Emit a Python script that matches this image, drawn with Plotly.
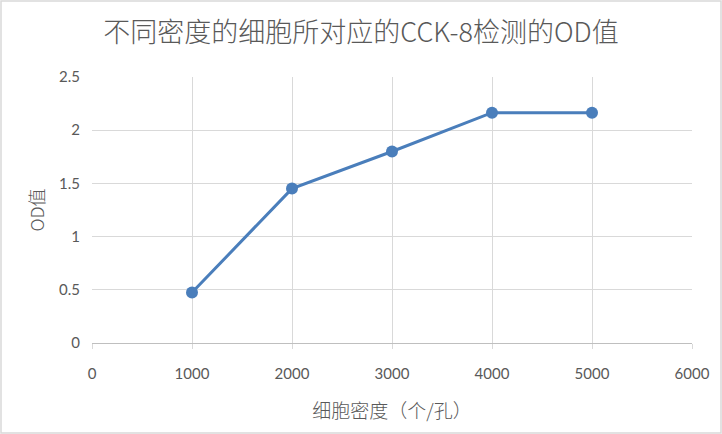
import plotly.graph_objects as go

density = [1000, 2000, 3000, 4000, 5000]
od_values = [0.474, 1.451, 1.80, 2.165, 2.165]
title_text = "不同密度的细胞所对应的CCK-8检测的OD值"
x_title = "细胞密度（个/孔）"
y_title = "OD值"

fig = go.Figure()
fig.add_trace(go.Scatter(
    x=density, y=od_values, mode="lines+markers",
    line=dict(color="#4a7ebb", width=3),
    marker=dict(color="#4a7ebb", size=12),
    showlegend=False, cliponaxis=False,
))

W, H = 722, 434
L, R, T, B = 92, 30, 77, 91
pw, ph = W - L - R, H - T - B

fig.update_layout(
    width=W, height=H,
    margin=dict(l=L, r=R, t=T, b=B),
    paper_bgcolor="white", plot_bgcolor="white",
    title=dict(text=title_text, x=0.5, xanchor="center", y=1 - 33 / H, yanchor="middle",
               font=dict(family="Noto Sans CJK SC", size=27, color="#595959", weight=300)),
    font=dict(family="Lato, Noto Sans CJK SC", color="#595959"),
    xaxis=dict(range=[0, 6000], dtick=1000, tick0=0, showgrid=True, gridcolor="#d9d9d9", gridwidth=1,
               zeroline=False, showline=True, linecolor="#bfbfbf", linewidth=1,
               ticks="outside", ticklen=5, tickcolor="#d9d9d9", ticklabelstandoff=12,
               tickfont=dict(family="Lato", size=15, color="#595959"),
               title=dict(text=x_title, standoff=23,
                          font=dict(family="Noto Sans CJK SC", size=19, color="#595959", weight=300))),
    yaxis=dict(range=[0, 2.5], dtick=0.5, showgrid=True, gridcolor="#d9d9d9", gridwidth=1,
               zeroline=False, showline=False,
               ticks="outside", ticklen=8, tickcolor="rgba(0,0,0,0)",
               tickfont=dict(family="Lato", size=15, color="#595959"),
               title=dict(text=y_title, standoff=9,
                          font=dict(family="Noto Sans CJK SC", size=18, color="#595959", weight=300))),
    shapes=[dict(type="rect", xref="paper", yref="paper",
                 x0=-(L - 1) / pw, x1=1 + (R - 1) / pw,
                 y0=-(B - 1) / ph, y1=1 + (T - 1) / ph,
                 line=dict(color="#d9d9d9", width=1.5), layer="below")],
)

fig.write_html("out.html", config={"displayModeBar": False},
               post_script="document.body.style.margin='0';")
